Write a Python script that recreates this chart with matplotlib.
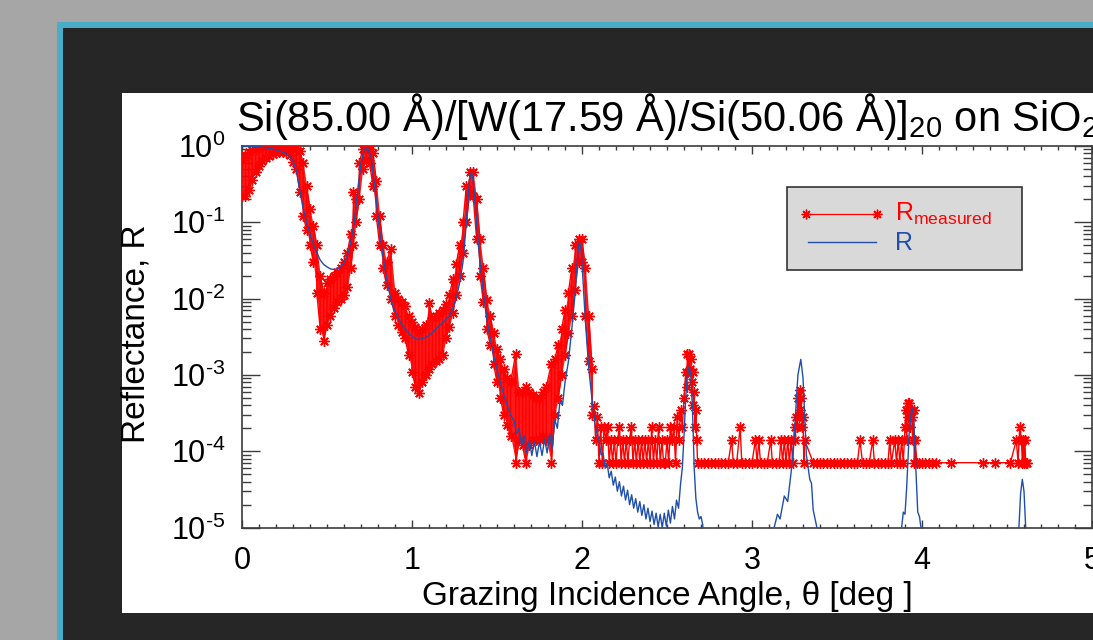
import numpy as np
import matplotlib
matplotlib.use('Agg')
import matplotlib.pyplot as plt
from matplotlib.patches import Rectangle
from matplotlib.lines import Line2D
from matplotlib.ticker import MultipleLocator, LogLocator, NullFormatter, FuncFormatter

plt.rcParams['font.family'] = ['Liberation Sans', 'DejaVu Sans']

# ---------------- data ----------------
# measured reflectivity: noisy band (upper / lower envelope) up to ~2.06 deg
meas_theta = [0.00, 0.02, 0.04, 0.06, 0.08, 0.10, 0.12, 0.14, 0.16, 0.18,
              0.20, 0.22, 0.24, 0.26, 0.28, 0.30, 0.32, 0.34, 0.36, 0.38,
              0.40, 0.42, 0.44, 0.46, 0.48, 0.50, 0.52, 0.54, 0.56, 0.58,
              0.60, 0.62, 0.64, 0.655, 0.67, 0.69, 0.71, 0.73, 0.75, 0.77,
              0.79, 0.81, 0.83, 0.85, 0.875, 0.90, 0.92, 0.94, 0.96, 0.98,
              1.00, 1.02, 1.04, 1.06, 1.08, 1.10, 1.12, 1.14, 1.16, 1.18,
              1.20, 1.22, 1.24, 1.26, 1.28, 1.30, 1.32, 1.34, 1.36, 1.38,
              1.40, 1.42, 1.44, 1.46, 1.48, 1.50, 1.52, 1.54, 1.56, 1.58,
              1.61, 1.63, 1.65, 1.67, 1.69, 1.71, 1.73, 1.75, 1.77, 1.79,
              1.82, 1.84, 1.86, 1.88, 1.90, 1.92, 1.94, 1.96, 1.98, 2.00,
              2.02, 2.04, 2.06]
meas_hi = [0.65, 0.75, 0.82, 0.87, 0.91, 0.94, 0.97, 0.99, 1.0, 1.0,
           1.0, 1.0, 1.0, 1.0, 1.0, 0.97, 0.95, 0.85, 0.6, 0.3,
           0.15, 0.09, 0.05, 0.02, 0.012, 0.016, 0.018, 0.02, 0.022, 0.025,
           0.03, 0.04, 0.07, 0.25, 0.2, 0.6, 0.9, 0.92, 0.9, 0.8,
           0.35, 0.12, 0.05, 0.03, 0.045, 0.012, 0.01, 0.009, 0.008, 0.006,
           0.005, 0.0042, 0.0036, 0.004, 0.0045, 0.0088, 0.0055, 0.006, 0.0065, 0.007,
           0.0085, 0.011, 0.018, 0.028, 0.05, 0.1, 0.3, 0.45, 0.45, 0.2,
           0.06, 0.025, 0.0095, 0.006, 0.0035, 0.0022, 0.0016, 0.0012, 0.0009, 0.0008,
           0.0019, 0.0006, 0.0006, 0.0007, 0.0006, 0.00055, 0.0005, 0.0005, 0.0006, 0.0007,
           0.0014, 0.0016, 0.0025, 0.004, 0.007, 0.012, 0.025, 0.05, 0.06, 0.06,
           0.025, 0.006, 0.0012]
meas_lo = [0.22, 0.22, 0.26, 0.36, 0.46, 0.55, 0.63, 0.70, 0.74, 0.77,
           0.80, 0.82, 0.82, 0.80, 0.76, 0.62, 0.5, 0.25, 0.12, 0.08,
           0.05, 0.03, 0.012, 0.004, 0.0028, 0.0045, 0.006, 0.0075, 0.009, 0.01,
           0.011, 0.014, 0.025, 0.05, 0.1, 0.2, 0.5, 0.65, 0.6, 0.3,
           0.12, 0.05, 0.025, 0.015, 0.01, 0.006, 0.0045, 0.0037, 0.003, 0.0018,
           0.0011, 0.0007, 0.00058, 0.0008, 0.001, 0.0012, 0.0014, 0.0015, 0.0016, 0.0018,
           0.003, 0.0043, 0.0065, 0.011, 0.02, 0.04, 0.1, 0.25, 0.22, 0.06,
           0.02, 0.009, 0.004, 0.0025, 0.0014, 0.0008, 0.0005, 0.0003, 0.00022, 0.00016,
           7.1e-5, 0.00014, 0.00012, 7.1e-5, 0.00012, 0.00014, 0.00014, 0.00014, 0.00016, 0.00014,
           7.1e-5, 0.0003, 0.0005, 0.001, 0.0018, 0.0035, 0.006, 0.013, 0.03, 0.03,
           0.006, 0.0015, 0.0003]

# measured reflectivity beyond 2.06 deg (detector floor and higher peaks)
tail_theta = [2.07, 2.08, 2.09, 2.10, 2.11, 2.12, 2.13, 2.14, 2.15, 2.16,
              2.17, 2.18, 2.19, 2.20, 2.21, 2.22, 2.23, 2.24, 2.25, 2.26,
              2.27, 2.28, 2.29, 2.30, 2.31, 2.32, 2.33, 2.34, 2.35, 2.36,
              2.37, 2.38, 2.39, 2.40, 2.41, 2.42, 2.43, 2.44, 2.45, 2.46,
              2.47, 2.48, 2.49, 2.50, 2.51, 2.52, 2.53, 2.54, 2.55, 2.56,
              2.57, 2.58, 2.59, 2.60, 2.61, 2.615, 2.62, 2.625, 2.63, 2.635,
              2.64, 2.645, 2.65, 2.655, 2.66, 2.665, 2.67, 2.675, 2.68, 2.70,
              2.72, 2.74, 2.76, 2.78, 2.80, 2.82, 2.84, 2.86, 2.88, 2.89,
              2.91, 2.93, 2.94, 2.96, 2.98, 3.00, 3.02, 3.03, 3.04, 3.05,
              3.07, 3.09, 3.11, 3.12, 3.14, 3.16, 3.17, 3.18, 3.19, 3.20,
              3.21, 3.22, 3.23, 3.24, 3.25, 3.255, 3.26, 3.265, 3.27, 3.275,
              3.28, 3.285, 3.29, 3.295, 3.30, 3.305, 3.31, 3.36, 3.38, 3.40,
              3.42, 3.44, 3.46, 3.48, 3.50, 3.52, 3.54, 3.56, 3.58, 3.60,
              3.62, 3.635, 3.65, 3.67, 3.69, 3.71, 3.72, 3.74, 3.76, 3.78,
              3.80, 3.81, 3.82, 3.84, 3.85, 3.86, 3.87, 3.88, 3.89, 3.90,
              3.905, 3.91, 3.915, 3.92, 3.925, 3.93, 3.935, 3.94, 3.945, 3.95,
              3.955, 3.96, 3.97, 3.98, 4.00, 4.02, 4.04, 4.06, 4.08, 4.17,
              4.36, 4.43, 4.52, 4.555, 4.565, 4.575, 4.585, 4.59, 4.595, 4.60,
              4.605, 4.61, 4.615]
tail_R = [3.9e-4, 1.4e-4, 2.8e-4, 7.1e-5, 2.1e-4, 7.1e-5, 2.1e-4, 1.4e-4, 2.1e-4, 7.1e-5,
          1.4e-4, 7.1e-5, 1.4e-4, 7.1e-5, 1.4e-4, 2.1e-4, 7.1e-5, 1.4e-4, 7.1e-5, 1.4e-4,
          7.1e-5, 1.4e-4, 2.1e-4, 7.1e-5, 1.4e-4, 7.1e-5, 1.4e-4, 7.1e-5, 1.4e-4, 7.1e-5,
          1.4e-4, 7.1e-5, 1.4e-4, 7.1e-5, 2.1e-4, 7.1e-5, 1.4e-4, 7.1e-5, 2.1e-4, 7.1e-5,
          1.4e-4, 7.1e-5, 7.1e-5, 1.4e-4, 7.1e-5, 2.1e-4, 1.4e-4, 2.1e-4, 7.1e-5, 2.8e-4,
          1.4e-4, 3.5e-4, 2.1e-4, 5.0e-4, 1.1e-3, 7.0e-4, 1.9e-3, 1.1e-3, 1.9e-3, 1.2e-3,
          1.6e-3, 8.0e-4, 1.1e-3, 4.0e-4, 6.0e-4, 2.1e-4, 3.5e-4, 1.4e-4, 7.1e-5, 7.1e-5,
          7.1e-5, 7.1e-5, 7.1e-5, 7.1e-5, 7.1e-5, 7.1e-5, 7.1e-5, 7.1e-5, 1.4e-4, 7.1e-5,
          7.1e-5, 2.1e-4, 7.1e-5, 7.1e-5, 7.1e-5, 7.1e-5, 1.4e-4, 7.1e-5, 1.4e-4, 7.1e-5,
          7.1e-5, 7.1e-5, 1.4e-4, 7.1e-5, 7.1e-5, 7.1e-5, 1.4e-4, 7.1e-5, 1.4e-4, 7.1e-5,
          1.4e-4, 7.1e-5, 1.4e-4, 7.1e-5, 2.1e-4, 1.4e-4, 2.8e-4, 2.1e-4, 5.0e-4, 2.8e-4,
          6.4e-4, 3.5e-4, 5.0e-4, 2.1e-4, 2.8e-4, 7.1e-5, 1.4e-4, 7.1e-5, 7.1e-5, 7.1e-5,
          7.1e-5, 7.1e-5, 7.1e-5, 7.1e-5, 7.1e-5, 7.1e-5, 7.1e-5, 7.1e-5, 7.1e-5, 7.1e-5,
          7.1e-5, 1.4e-4, 7.1e-5, 7.1e-5, 7.1e-5, 1.4e-4, 7.1e-5, 7.1e-5, 7.1e-5, 7.1e-5,
          7.1e-5, 1.4e-4, 7.1e-5, 1.4e-4, 7.1e-5, 1.4e-4, 7.1e-5, 1.4e-4, 7.1e-5, 2.1e-4,
          3.5e-4, 1.4e-4, 4.3e-4, 2.8e-4, 4.3e-4, 2.1e-4, 3.5e-4, 2.8e-4, 1.4e-4, 3.5e-4,
          7.1e-5, 1.4e-4, 7.1e-5, 7.1e-5, 7.1e-5, 7.1e-5, 7.1e-5, 7.1e-5, 7.1e-5, 7.1e-5,
          7.1e-5, 7.1e-5, 7.1e-5, 1.4e-4, 7.1e-5, 2.1e-4, 1.4e-4, 7.1e-5, 1.4e-4, 7.1e-5,
          1.4e-4, 7.1e-5, 7.1e-5]

# computed reflectivity R
model_theta = [0.00, 0.05, 0.10, 0.15, 0.20, 0.25, 0.28, 0.30, 0.32, 0.34,
               0.36, 0.38, 0.40, 0.42, 0.44, 0.46, 0.48, 0.50, 0.52, 0.54,
               0.56, 0.58, 0.60, 0.62, 0.64, 0.66, 0.68, 0.70, 0.72, 0.74,
               0.76, 0.78, 0.80, 0.82, 0.84, 0.86, 0.88, 0.90, 0.92, 0.94,
               0.96, 0.98, 1.00, 1.02, 1.04, 1.06, 1.08, 1.10, 1.12, 1.14,
               1.16, 1.18, 1.20, 1.22, 1.24, 1.26, 1.28, 1.30, 1.32, 1.34,
               1.35, 1.36, 1.38, 1.40, 1.42, 1.44, 1.46, 1.48, 1.50, 1.52,
               1.54, 1.56, 1.58, 1.60, 1.615, 1.63, 1.645, 1.66, 1.675, 1.69,
               1.705, 1.72, 1.735, 1.75, 1.765, 1.78, 1.795, 1.81, 1.825, 1.84,
               1.855, 1.87, 1.885, 1.90, 1.92, 1.94, 1.96, 1.975, 1.985, 1.995,
               2.01, 2.02, 2.04, 2.06, 2.08, 2.10, 2.112, 2.124, 2.136, 2.148,
               2.160, 2.172, 2.184, 2.196, 2.208, 2.220, 2.232, 2.244, 2.256, 2.268,
               2.280, 2.292, 2.304, 2.316, 2.328, 2.340, 2.352, 2.364, 2.376, 2.388,
               2.400, 2.412, 2.424, 2.436, 2.448, 2.460, 2.472, 2.484, 2.496, 2.508,
               2.520, 2.532, 2.544, 2.556, 2.568, 2.580, 2.590, 2.600, 2.610, 2.620,
               2.630, 2.640, 2.650, 2.660, 2.670, 2.680, 2.690, 2.700, 2.710, 2.720,
               2.90, 3.12, 3.13, 3.15, 3.165, 3.19, 3.21, 3.23, 3.25, 3.27,
               3.287, 3.30, 3.32, 3.34, 3.35, 3.36, 3.38, 3.39, 3.60, 3.87,
               3.88, 3.89, 3.90, 3.91, 3.925, 3.94, 3.95, 3.965, 3.975, 3.985,
               4.00, 4.01, 4.30, 4.56, 4.57, 4.58, 4.59, 4.60, 4.61, 4.62,
               4.80]
model_R = [0.99, 0.985, 0.97, 0.94, 0.89, 0.81, 0.73, 0.64, 0.47, 0.26,
           0.15, 0.1, 0.07, 0.051, 0.04, 0.032, 0.028, 0.026, 0.0245, 0.024,
           0.0245, 0.026, 0.03, 0.037, 0.055, 0.1, 0.25, 0.6, 0.9, 0.92,
           0.7, 0.3, 0.12, 0.05, 0.025, 0.014, 0.009, 0.0068, 0.0055, 0.0046,
           0.004, 0.0035, 0.0032, 0.003, 0.0029, 0.003, 0.0031, 0.0033, 0.0036, 0.004,
           0.0044, 0.0048, 0.0053, 0.006, 0.0075, 0.01, 0.016, 0.03, 0.1, 0.4,
           0.45, 0.35, 0.1, 0.03, 0.012, 0.0055, 0.003, 0.0018, 0.0012, 0.0008,
           0.00055, 0.0004, 0.0003, 0.00025, 0.00017, 0.0002, 0.00012, 0.00016, 9.5e-5, 0.00014,
           8.8e-5, 0.000135, 8.5e-5, 0.000135, 8.8e-5, 0.000145, 9.5e-5, 0.00017, 0.00011, 0.00026,
           0.0002, 0.00045, 0.0004, 0.0008, 0.0015, 0.004, 0.012, 0.04, 0.055, 0.045,
           0.012, 0.005, 0.0012, 0.00045, 0.0002, 0.00014, 9.0e-5, 9.5e-5, 6.0e-5, 7.0e-5,
           4.5e-5, 5.5e-5, 3.6e-5, 4.6e-5, 3.0e-5, 4.0e-5, 2.6e-5, 3.5e-5, 2.3e-5, 3.1e-5,
           2.0e-5, 2.7e-5, 1.8e-5, 2.4e-5, 1.6e-5, 2.2e-5, 1.45e-5, 2.0e-5, 1.3e-5, 1.8e-5,
           1.2e-5, 1.65e-5, 1.1e-5, 1.55e-5, 1.02e-5, 1.5e-5, 1.0e-5, 1.55e-5, 1.05e-5, 1.7e-5,
           1.15e-5, 1.9e-5, 1.3e-5, 2.3e-5, 1.8e-5, 3.8e-5, 6.0e-5, 1.6e-4, 5.0e-4, 1.0e-3,
           1.3e-3, 1.0e-3, 3.5e-4, 6.0e-5, 2.4e-5, 1.6e-5, 1.3e-5, 1.4e-5, 1.1e-5, 5e-6,
           1e-6, 5e-6, 1.0e-5, 1.5e-5, 1.3e-5, 2.6e-5, 2.2e-5, 5.3e-5, 1.8e-4, 1.0e-3,
           1.6e-3, 9.2e-4, 8.9e-5, 4.3e-5, 3.8e-5, 1.7e-5, 1.05e-5, 5e-6, 1e-6, 5e-6,
           1.0e-5, 1.6e-5, 1.5e-5, 3.4e-5, 1.8e-4, 3.8e-4, 3.0e-4, 5.3e-5, 1.6e-5, 1.4e-5,
           8e-6, 5e-6, 1e-6, 5e-6, 1.0e-5, 2.8e-5, 4.3e-5, 3.0e-5, 1.0e-5, 5e-6,
           1e-6]

title_text = ('Si(85.00 Å)/[W(17.59 Å)/Si(50.06 Å)]$_{\\mathregular{20}}$'
              ' on SiO$_{\\mathregular{2}}$')
xlabel_text = 'Grazing Incidence Angle, θ [deg ]'
ylabel_text = 'Reflectance, R'
legend_labels = ['R$_{\\mathregular{measured}}$', 'R']

# ---------------- figure ----------------
W, H = 1093, 640
fig = plt.figure(figsize=(W / 100, H / 100), dpi=100, facecolor='#a6a6a6')


def fx(px):
    return px / W


def fy(py):
    return 1 - py / H


RED = '#ff0000'
BLUE = '#1f4fab'
AXC = '#3c3c3c'

fig.add_artist(Rectangle((fx(57), 0), 1, fy(22), transform=fig.transFigure,
                         facecolor='#4aacc6', edgecolor='none', zorder=-3))
fig.add_artist(Rectangle((fx(62.5), 0), 1, fy(28), transform=fig.transFigure,
                         facecolor='#262626', edgecolor='none', zorder=-2))
fig.add_artist(Rectangle((fx(122), fy(612.7)), 1, fy(93) - fy(612.7),
                         transform=fig.transFigure, facecolor='white',
                         edgecolor='none', zorder=-1))

ax = fig.add_axes([fx(242), fy(527.7), (1092 - 242) / W, (527.7 - 145.8) / H])
ax.set_yscale('log')
ax.set_xlim(0, 5)
ax.set_ylim(1e-5, 1)
ax.set_facecolor('white')

ast = (8, 2, 0)

mt = np.array(meas_theta)
hi = np.array(meas_hi)
lo = np.array(meas_lo)
even = (np.arange(len(mt)) % 2 == 0)[:, None]
pairs = np.where(even, np.column_stack([hi, lo]), np.column_stack([lo, hi]))
red_x = np.concatenate([np.repeat(mt, 2), np.array(tail_theta)])
red_y = np.concatenate([pairs.ravel(), np.array(tail_R)])

ax.fill_between(mt, lo, hi, color=RED, alpha=0.9, lw=0, zorder=2)
ax.plot(red_x, red_y, color=RED, lw=1.0, marker=ast, ms=7.5, mew=1.0,
        mec=RED, zorder=3)
ax.plot(model_theta, model_R, color=BLUE, lw=1.0, zorder=4)


def sci_label(v, pos):
    e = int(round(np.log10(v)))
    exp = str(e).replace('-', '\u2010')
    return '$\\mathregular{10^{%s}}$' % exp


ax.xaxis.set_major_locator(MultipleLocator(1))
ax.xaxis.set_minor_locator(MultipleLocator(0.1))
ax.yaxis.set_major_locator(LogLocator(base=10, numticks=10))
ax.yaxis.set_major_formatter(FuncFormatter(sci_label))
ax.yaxis.set_minor_locator(LogLocator(base=10, subs=np.arange(2, 10), numticks=20))
ax.yaxis.set_minor_formatter(NullFormatter())
ax.tick_params(axis='both', which='both', direction='in', top=True, right=True,
               color=AXC, width=1.0, labelsize=22, labelcolor='black')
ax.tick_params(axis='x', which='major', length=6, pad=13)
ax.tick_params(axis='x', which='minor', length=3)
ax.tick_params(axis='y', which='major', length=13, pad=12)
ax.tick_params(axis='y', which='minor', length=6.5)
for s in ax.spines.values():
    s.set_color(AXC)
    s.set_linewidth(1.2)

fig.text(fx(667), fy(131), title_text, ha='center', va='baseline', fontsize=30)
fig.text(fx(667), fy(605), xlabel_text, ha='center', va='baseline', fontsize=24)
fig.text(fx(136), fy(334), ylabel_text, ha='center', va='center',
         rotation=90, fontsize=24)

# legend
fig.add_artist(Rectangle((fx(787), fy(270)), fx(1022) - fx(787), fy(187) - fy(270),
                         transform=fig.transFigure, facecolor='#d9d9d9',
                         edgecolor='#333333', lw=1.2, zorder=5))
fig.add_artist(Line2D([fx(806), fx(877)], [fy(214), fy(214)], transform=fig.transFigure,
                      color=RED, lw=0.9, marker=ast, ms=7, mew=1.0, zorder=6))
fig.add_artist(Line2D([fx(808), fx(876)], [fy(242), fy(242)], transform=fig.transFigure,
                      color=BLUE, lw=1.0, zorder=6))
fig.text(fx(895), fy(221), legend_labels[0], color=RED, fontsize=18,
         va='baseline', zorder=7)
fig.text(fx(895), fy(250), legend_labels[1], color=BLUE, fontsize=18,
         va='baseline', zorder=7)

fig.savefig('out.png', dpi=100, facecolor=fig.get_facecolor())
